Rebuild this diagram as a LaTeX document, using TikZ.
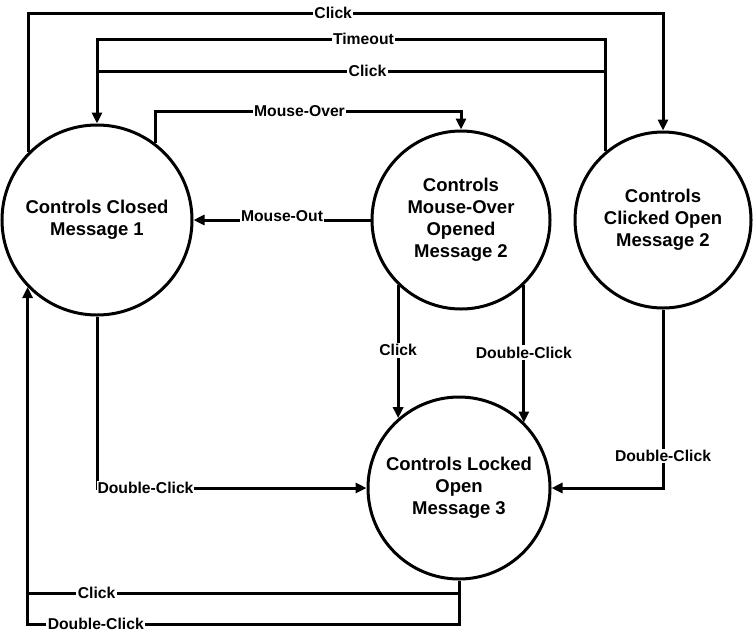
\documentclass[tikz,border=0pt]{standalone}
\usepackage{fontspec}
\setmainfont{Liberation Sans}
\usetikzlibrary{arrows.meta}
\begin{document}
\begin{tikzpicture}[x=1pt,y=-1pt,
  state/.style={draw, circle, line width=3pt, inner sep=0pt, align=center, font=\bfseries\fontsize{18.5}{22}\selectfont},
  conn/.style={line width=3pt},
  arr/.style={conn, -{Triangle[length=11pt,width=10pt]}},
  lbl/.style={fill=white, inner sep=1.5pt, font=\bfseries\fontsize{15.7}{18}\selectfont}]
\useasboundingbox (0,0) rectangle (754,635);
\node[state, minimum size=190pt] (c1) at (97,220) {Controls Closed\\Message 1};
\node[state, minimum size=178pt] (c2) at (461,220) {Controls\\Mouse-Over\\Opened\\Message 2};
\node[state, minimum size=176pt] (c3) at (663,220) {Controls\\Clicked Open\\Message 2};
\node[state, minimum size=182pt] (c4) at (459,488) {Controls Locked\\Open\\Message 3};

\coordinate (yclick) at (0,13);
\coordinate (ytmo) at (0,39);
\coordinate (yclk2) at (0,71);
\coordinate (ymo) at (0,111);
\coordinate (ybclk) at (0,593);
\coordinate (ybdc) at (0,624);

\draw[arr] (c1.135) -- (c1.135 |- yclick) -- node[lbl,pos=0.48]{Click} (c3.north |- yclick) -- (c3.north);
\draw[arr] (c3.130) -- (c3.130 |- ytmo) -- node[lbl,pos=0.476]{Timeout} (c1.north |- ytmo) -- (c1.north);
\draw[conn] (c3.130 |- yclk2) -- node[lbl,pos=0.468]{Click} (c1.north |- yclk2);
\draw[arr] (c1.53) -- (c1.53 |- ymo) -- node[lbl,pos=0.472]{Mouse-Over} (c2.north |- ymo) -- (c2.north);
\draw[arr] (c2.west) -- node[lbl,yshift=4pt,inner ysep=4.5pt]{Mouse-Out} (c1.east);
\draw[arr] (c2.-134) -- node[lbl,pos=0.49]{Click} (c2.-134 |- c4.131);
\draw[arr] (c2.-46) -- node[lbl,pos=0.49]{Double-Click} (c2.-46 |- c4.45);
\draw[arr] (c3.south) -- node[lbl,pos=0.82]{Double-Click} (c3.south |- c4.east) -- (c4.east);
\draw[arr] (c1.south) -- (c1.south |- c4.west) node[lbl,anchor=west,inner xsep=0.5pt,xshift=-1.5pt]{Double-Click} -- (c4.west);
\draw[arr] (c4.south) -- (c4.south |- ybdc) -- node[lbl,pos=0.842]{Double-Click} (c1.-136 |- ybdc) -- (c1.-136);
\draw[conn] (c4.south |- ybclk) -- node[lbl,pos=0.84]{Click} (c1.-136 |- ybclk);
\end{tikzpicture}
\end{document}
